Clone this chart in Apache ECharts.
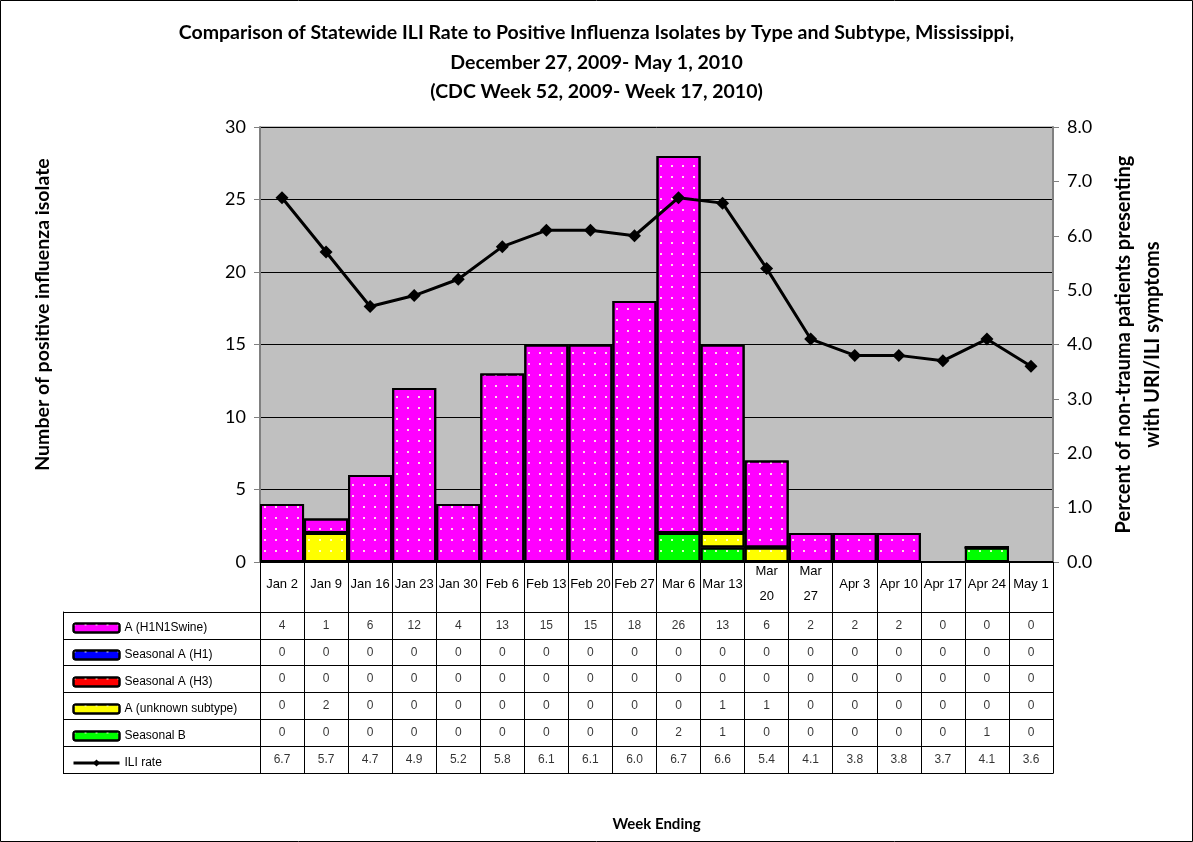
<!DOCTYPE html>
<html><head><meta charset="utf-8">
<script src="https://cdn.jsdelivr.net/npm/echarts@6/dist/echarts.min.js"></script>
<style>html,body{margin:0;padding:0;background:#fff}#main{width:1193px;height:842px}</style>
</head><body><div id="main"></div>
<script>
const weeks = ['Jan 2','Jan 9','Jan 16','Jan 23','Jan 30','Feb 6','Feb 13','Feb 20','Feb 27','Mar 6','Mar 13','Mar 20','Mar 27','Apr 3','Apr 10','Apr 17','Apr 24','May 1'];
const weekTickLabels = ['Jan 2','Jan 9','Jan 16','Jan 23','Jan 30','Feb 6','Feb 13','Feb 20','Feb 27','Mar 6','Mar 13','Mar\n20','Mar\n27','Apr 3','Apr 10','Apr 17','Apr 24','May 1'];
const h1n1 = [4,1,6,12,4,13,15,15,18,26,13,6,2,2,2,0,0,0];
const seasonalH1 = [0,0,0,0,0,0,0,0,0,0,0,0,0,0,0,0,0,0];
const seasonalH3 = [0,0,0,0,0,0,0,0,0,0,0,0,0,0,0,0,0,0];
const unknownSub = [0,2,0,0,0,0,0,0,0,0,1,1,0,0,0,0,0,0];
const seasonalB = [0,0,0,0,0,0,0,0,0,2,1,0,0,0,0,0,1,0];
const iliRate = [6.7,5.7,4.7,4.9,5.2,5.8,6.1,6.1,6.0,6.7,6.6,5.4,4.1,3.8,3.8,3.7,4.1,3.6];
const rowNames = ['A (H1N1Swine)','Seasonal A (H1)','Seasonal A (H3)','A (unknown subtype)','Seasonal B','ILI rate'];

const decal = {symbol:'rect', symbolSize:1, dashArrayX:[1.5,9], dashArrayY:[1.5,9], color:'rgba(255,255,230,0.85)'};
function bar(name, data, color){
  return {name, type:'bar', stack:'iso', data, barCategoryGap:'0%', xAxisIndex:0, yAxisIndex:0,
    itemStyle:{color, borderColor:'#000', borderWidth:2, decal}};
}
const rowData = [h1n1, seasonalH1, seasonalH3, unknownSub, seasonalB, iliRate];
const cells = [];
rowData.forEach((arr, r) => arr.forEach((v, c) => {
  cells.push({name: r === 5 ? v.toFixed(1) : String(v), value:[c, r]});
}));

const chart = echarts.init(document.getElementById('main'), null, {renderer:'canvas'});
const black = {color:'#000', width:1};
chart.setOption({
  animation:false,
  backgroundColor:'#fff',
  title:{
    text:'Comparison of Statewide ILI Rate to Positive Influenza Isolates by Type and Subtype, Mississippi,\nDecember 27, 2009- May 1, 2010\n(CDC Week 52, 2009- Week 17, 2010)',
    left:'center', top:13,
    textStyle:{fontFamily:'Lato', fontSize:19.5, fontWeight:'bold', color:'#000', lineHeight:29.5}
  },
  graphic:[{type:'rect', shape:{x:0.5,y:0.5,width:1192,height:841}, style:{fill:'none', stroke:'#000', lineWidth:1}, silent:true}],
  legend:{
    orient:'vertical', left:67, top:617, itemGap:15, itemWidth:46, itemHeight:9,
    data:rowNames,
    lineStyle:{width:3},
    textStyle:{fontFamily:'Liberation Sans', fontSize:12, color:'#000', lineHeight:10}
  },
  grid:[
    {left:260, right:140, top:127, height:435, show:true, backgroundColor:'#C0C0C0', borderColor:'#808080', borderWidth:1},
    {left:260, right:140, top:612, height:161}
  ],
  xAxis:[
    {type:'category', gridIndex:0, data:weeks, position:'bottom',
      axisLine:{show:true, lineStyle:black},
      axisTick:{show:true, interval:0, length:50, lineStyle:black},
      axisLabel:{interval:0, margin:22, verticalAlign:'middle', lineHeight:25, fontFamily:'Liberation Sans', fontSize:13, color:'#000',
        formatter:(v, i) => weekTickLabels[i]}},
    {type:'category', gridIndex:1, data:weeks, position:'bottom',
      axisLine:{show:true, lineStyle:black}, axisTick:{show:false}, axisLabel:{show:false},
      splitLine:{show:true, interval:0, lineStyle:black},
      name:'Week Ending', nameLocation:'middle', nameGap:44,
      nameTextStyle:{fontFamily:'Lato', fontSize:15, fontWeight:'bold', color:'#000'}},
    {type:'category', gridIndex:1, data:weeks, position:'top',
      axisLine:{show:true, lineStyle:black}, axisTick:{show:false}, axisLabel:{show:false}}
  ],
  yAxis:[
    {type:'value', gridIndex:0, min:0, max:30, interval:5, position:'left',
      axisLine:{show:true, lineStyle:{color:'#808080', width:2}},
      axisTick:{show:true, length:6, lineStyle:{color:'#808080'}},
      axisLabel:{fontFamily:'Lato', fontSize:18, color:'#000', margin:14},
      splitLine:{show:true, lineStyle:{color:'#000', width:1}},
      name:'Number of positive influenza isolate', nameLocation:'middle', nameGap:207,
      nameTextStyle:{fontFamily:'Lato', fontSize:19.5, fontWeight:'bold', color:'#000', padding:[0,0,0,60]}},
    {type:'value', gridIndex:0, min:0, max:8, interval:1, position:'right',
      axisLine:{show:true, lineStyle:{color:'#808080', width:2}},
      axisTick:{show:true, length:6, lineStyle:{color:'#808080'}},
      axisLabel:{fontFamily:'Lato', fontSize:18, color:'#000', margin:14, formatter:v => v.toFixed(1)},
      splitLine:{show:false},
      name:'Percent of non-trauma patients presenting\nwith URI/ILI symptoms', nameLocation:'middle', nameGap:56,
      nameTextStyle:{fontFamily:'Lato', fontSize:20, fontWeight:'bold', color:'#000', lineHeight:29}},
    {type:'category', gridIndex:1, data:rowNames, inverse:true, position:'left',
      axisLine:{show:true, onZero:false, lineStyle:black},
      axisTick:{show:true, interval:0, length:197, lineStyle:black},
      axisLabel:{show:false},
      splitLine:{show:true, interval:0, lineStyle:black}},
    {type:'category', gridIndex:1, data:rowNames, inverse:true, position:'left', offset:197,
      axisLine:{show:true, onZero:false, lineStyle:black}, axisTick:{show:false}, axisLabel:{show:false}},
    {type:'category', gridIndex:1, data:rowNames, inverse:true, position:'right',
      axisLine:{show:true, onZero:false, lineStyle:black}, axisTick:{show:false}, axisLabel:{show:false}}
  ],
  series:[
    bar('Seasonal B', seasonalB, '#00FF00'),
    bar('A (unknown subtype)', unknownSub, '#FFFF00'),
    bar('Seasonal A (H3)', seasonalH3, '#FF0000'),
    bar('Seasonal A (H1)', seasonalH1, '#0000FF'),
    bar('A (H1N1Swine)', h1n1, '#FF00FF'),
    {name:'ILI rate', type:'line', data:iliRate, xAxisIndex:0, yAxisIndex:1, z:10,
      symbol:'diamond', symbolSize:13,
      lineStyle:{color:'#000', width:3}, itemStyle:{color:'#000'}},
    {type:'scatter', xAxisIndex:1, yAxisIndex:2, data:cells, symbolSize:1, silent:true,
      itemStyle:{color:'rgba(0,0,0,0)'},
      label:{show:true, position:'inside', formatter:'{b}', fontFamily:'Liberation Sans', fontSize:12, color:'#000'}}
  ]
});
</script></body></html>
